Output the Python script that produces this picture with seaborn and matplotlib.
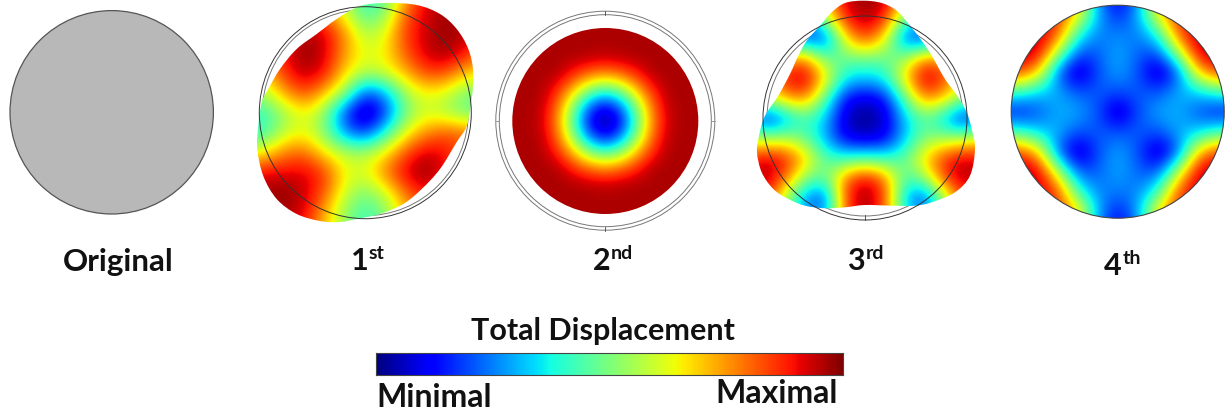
import numpy as np
import matplotlib
matplotlib.use('Agg')
import matplotlib.pyplot as plt
from matplotlib.patches import Circle, PathPatch
from matplotlib.path import Path
import seaborn as sns

sns.set_theme(style='white')
plt.rcParams['font.family'] = ['Lato', 'DejaVu Sans']

# displacement, 0 = minimal, 1 = maximal
mode1 = [
    [.60, .60, .60, .70, .70, .60, .40, .45, .70, .90, .95, .90, .85],
    [.70, .75, .85, .85, .75, .60, .42, .50, .80, .92, .97, .95, .90],
    [.75, .80, .90, .95, .93, .75, .55, .62, .85, .93, .98, .95, .90],
    [.70, .80, .90, .99, .93, .75, .62, .65, .82, .93, .98, .90, .80],
    [.60, .70, .87, .96, .90, .68, .58, .62, .72, .85, .85, .72, .65],
    [.50, .58, .75, .85, .72, .55, .20, .30, .55, .65, .62, .50, .50],
    [.42, .42, .55, .65, .52, .18, .00, .15, .48, .60, .55, .48, .45],
    [.38, .42, .58, .63, .50, .25, .15, .38, .62, .75, .82, .80, .75],
    [.60, .65, .78, .80, .65, .57, .55, .65, .82, .93, .90, .80, .75],
    [.85, .92, .90, .92, .85, .64, .62, .78, .92, .99, .90, .80, .75],
    [.90, .97, .99, .93, .82, .60, .50, .60, .80, .90, .85, .80, .75],
    [.90, .95, .97, .92, .72, .52, .42, .50, .70, .80, .80, .75, .70],
    [.90, .90, .90, .85, .70, .55, .40, .50, .65, .70, .70, .70, .70],
]
mode2 = [
    [.96, .96, .96, .96, .96, .96, .96, .96, .96, .96, .96, .96, .96],
    [.96, .96, .96, .96, .96, .96, .96, .96, .96, .96, .96, .96, .96],
    [.96, .96, .96, .96, .96, .95, .94, .95, .96, .96, .96, .96, .96],
    [.96, .96, .96, .96, .88, .81, .77, .81, .88, .96, .96, .96, .96],
    [.96, .96, .96, .88, .72, .53, .45, .53, .72, .88, .96, .96, .96],
    [.96, .96, .95, .81, .53, .25, .12, .25, .53, .81, .95, .96, .96],
    [.96, .96, .94, .77, .45, .12, .00, .12, .45, .77, .94, .96, .96],
    [.96, .96, .95, .81, .53, .25, .12, .25, .53, .81, .95, .96, .96],
    [.96, .96, .96, .88, .72, .53, .45, .53, .72, .88, .96, .96, .96],
    [.96, .96, .96, .96, .88, .81, .77, .81, .88, .96, .96, .96, .96],
    [.96, .96, .96, .96, .96, .95, .94, .95, .96, .96, .96, .96, .96],
    [.96, .96, .96, .96, .96, .96, .96, .96, .96, .96, .96, .96, .96],
    [.96, .96, .96, .96, .96, .96, .96, .96, .96, .96, .96, .96, .96],
]
mode3 = [
    [.50, .50, .50, .50, .72, .93, .98, .95, .72, .50, .50, .50, .50],
    [.50, .50, .40, .20, .55, .88, .97, .88, .45, .35, .50, .50, .50],
    [.50, .40, .20, .20, .15, .65, .85, .65, .18, .15, .30, .45, .50],
    [.55, .60, .75, .80, .50, .47, .47, .47, .55, .80, .75, .60, .55],
    [.60, .72, .90, .97, .68, .35, .32, .36, .68, .97, .85, .60, .50],
    [.50, .55, .72, .78, .45, .12, .07, .12, .45, .78, .68, .50, .40],
    [.40, .10, .25, .42, .32, .06, .00, .06, .32, .45, .30, .08, .30],
    [.62, .55, .58, .48, .30, .10, .07, .10, .32, .52, .55, .60, .65],
    [.85, .95, .90, .72, .45, .42, .45, .42, .47, .70, .88, .95, .90],
    [.90, .97, .80, .50, .45, .80, .95, .80, .42, .52, .85, .97, .90],
    [.85, .90, .55, .25, .15, .85, .98, .85, .30, .15, .55, .85, .80],
    [.80, .85, .50, .30, .30, .80, .98, .80, .40, .30, .50, .80, .80],
    [.80, .85, .50, .30, .30, .80, .98, .80, .40, .30, .50, .80, .80],
]
mode4 = [
    [.90, .90, .90, .90, .70, .20, .10, .20, .70, .90, .90, .90, .90],
    [.90, .90, .90, .85, .70, .30, .12, .30, .70, .85, .90, .90, .90],
    [.90, .90, .95, .85, .42, .25, .25, .25, .42, .85, .95, .90, .90],
    [.95, .98, .95, .58, .20, .22, .30, .22, .20, .58, .95, .98, .95],
    [.85, .85, .72, .20, .03, .20, .30, .20, .03, .20, .72, .85, .85],
    [.45, .42, .33, .30, .20, .22, .20, .22, .20, .30, .33, .42, .45],
    [.12, .12, .20, .30, .30, .20, .03, .20, .30, .30, .20, .12, .12],
    [.45, .42, .33, .30, .20, .22, .20, .22, .20, .30, .33, .42, .45],
    [.85, .85, .72, .20, .03, .20, .30, .20, .03, .20, .72, .85, .85],
    [.95, .98, .95, .58, .20, .22, .30, .22, .20, .58, .95, .98, .95],
    [.90, .90, .95, .85, .42, .25, .25, .25, .42, .85, .95, .90, .90],
    [.90, .90, .90, .85, .70, .30, .12, .30, .70, .85, .90, .90, .90],
    [.90, .90, .90, .90, .70, .20, .10, .20, .70, .90, .90, .90, .90],
]

# deformed outlines
outline1 = [(386.7, 4), (416.7, 6), (440, 15), (456.7, 30), (468.3, 50), (473.3, 73), (471.7, 100),
            (466.7, 127), (456.7, 143), (440, 170), (421.7, 190), (403.3, 205), (380, 215), (356.7, 220),
            (340, 223), (320, 222), (296.7, 215), (276.7, 200), (263.3, 177), (257.3, 150), (258.3, 127),
            (261.7, 103), (268.3, 90), (280, 70), (296.7, 50), (316.7, 35), (336.7, 20), (360, 7)]
outline3 = [(863.3, 1.7), (845, 4), (831.7, 13.3), (820, 26.7), (806.7, 41.7), (798.3, 56.7), (790, 75),
            (778.3, 96.7), (765, 116.7), (759, 136.7), (757, 153.3), (761.7, 173.3), (773.3, 190),
            (788.3, 200), (805, 206.7), (825, 209.3), (845, 208.3), (865, 206), (891.7, 206.7), (915, 206.7),
            (931.7, 203.3), (955, 193.3), (970, 176.7), (975, 150), (971.7, 130), (966.7, 113.3),
            (958.3, 98.3), (945, 80), (931.7, 56.7), (921.7, 41.7), (910, 26.7), (896.7, 11.7), (881.7, 4)]

level_ticks = [1, 2, 3, 4, 5, 6]

jet = plt.get_cmap('jet')


def smooth_path(points):
    # closed Catmull-Rom through the outline points
    pts = np.array(points, dtype=float)
    n = len(pts)
    verts = [pts[0]]
    codes = [Path.MOVETO]
    for i in range(n):
        p0, p1, p2, p3 = pts[i - 1], pts[i], pts[(i + 1) % n], pts[(i + 2) % n]
        verts += [p1 + (p2 - p0) / 6, p2 - (p3 - p1) / 6, p2]
        codes += [Path.CURVE4] * 3
    return Path(verts, codes)


def draw_field(ax, grid, cx, cy, half, clip):
    im = ax.imshow(np.array(grid), cmap=jet, vmin=0, vmax=1, interpolation='bicubic',
                   interpolation_stage='data', extent=(cx - half, cx + half, cy + half, cy - half),
                   aspect='auto', zorder=2)
    ax.add_patch(clip)
    im.set_clip_path(clip)
    return im


def ring(ax, cx, cy, r, color='#777777', lw=0.7, z=1):
    ax.add_patch(Circle((cx, cy), r, fill=False, ec=color, lw=lw, zorder=z))


fig = plt.figure(figsize=(12.31, 4.14), dpi=100)
ax = fig.add_axes([0, 0, 1, 1])

# original
ax.add_patch(Circle((111.7, 113.3), 101.7, fc='#b8b8b8', ec='#555555', lw=0.9))

# 1st
ring(ax, 365.3, 113.7, 103)
draw_field(ax, mode1, 365, 113, 130,
           PathPatch(smooth_path(outline1), fc='none', ec='none', transform=ax.transData))
ring(ax, 365.3, 113.7, 106, color='#333333', z=3)

# 2nd
ring(ax, 605.3, 121.7, 109.5)
ring(ax, 605.3, 121.7, 106)
draw_field(ax, mode2, 605.3, 122, 104,
           Circle((605.3, 122), 93, fc='none', ec='none', transform=ax.transData))
ax.plot([605.3, 605.3], [12, 16], color='#555555', lw=0.7)
ax.plot([605.3, 605.3], [227.5, 231.5], color='#555555', lw=0.7)
ax.plot([495.8, 499.3], [121.7, 121.7], color='#999999', lw=0.7)
ax.plot([711.3, 714.8], [121.7, 121.7], color='#999999', lw=0.7)

# 3rd
ring(ax, 865, 119, 98)
draw_field(ax, mode3, 865, 120, 130,
           PathPatch(smooth_path(outline3), fc='none', ec='none', transform=ax.transData))
ring(ax, 865, 119, 102, color='#333333', z=3)
ax.plot([865, 865], [216, 221], color='#555555', lw=0.7)

# 4th
draw_field(ax, mode4, 1117.7, 112.7, 130,
           Circle((1117.7, 112.7), 106.5, fc='none', ec='none', transform=ax.transData))
ring(ax, 1117.7, 112.7, 106.5, color='#444444', lw=0.8, z=3)

ax.set_xlim(0, 1231)
ax.set_ylim(414, 0)
ax.axis('off')

label_kw = dict(fontweight='bold', color='#111111', va='center')
sup_kw = dict(fontsize=14, fontweight='bold', color='#111111', va='center')
ax.text(118, 262, 'Original', ha='center', fontsize=22.5, **label_kw)
ax.text(351, 261, '1', ha='left', fontsize=22, **label_kw)
ax.text(369, 254, 'st', ha='left', **sup_kw)
ax.text(593, 261, '2', ha='left', fontsize=22, **label_kw)
ax.text(611, 254, 'nd', ha='left', **sup_kw)
ax.text(847, 261, '3', ha='left', fontsize=22, **label_kw)
ax.text(866, 254, 'rd', ha='left', **sup_kw)
ax.text(1104, 266, '4', ha='left', fontsize=22, **label_kw)
ax.text(1122.5, 259, 'th', ha='left', **sup_kw)
ax.text(603, 331, 'Total Displacement', ha='center', fontsize=22, **label_kw)
ax.text(376, 398, 'Minimal', ha='left', fontsize=23, **label_kw)
ax.text(838, 394, 'Maximal', ha='right', fontsize=23, **label_kw)

# colour scale
W, H = 1231, 414
cax = fig.add_axes([376 / W, 1 - 376 / H, 467 / W, 22 / H])
sns.heatmap(np.linspace(0, 1, 256).reshape(1, -1), cmap=jet, vmin=0, vmax=1, cbar=False,
            xticklabels=False, yticklabels=False, ax=cax)
for s in cax.spines.values():
    s.set_visible(True)
    s.set_color('#444444')
    s.set_linewidth(0.8)
cax.set_xticks([t * 256 / 6.72 for t in level_ticks])
cax.set_xticklabels([])
cax.tick_params(axis='x', which='both', direction='in', length=2.5, width=0.7, color='#333333',
                top=True, bottom=True)

plt.savefig('out.png', dpi=100)
